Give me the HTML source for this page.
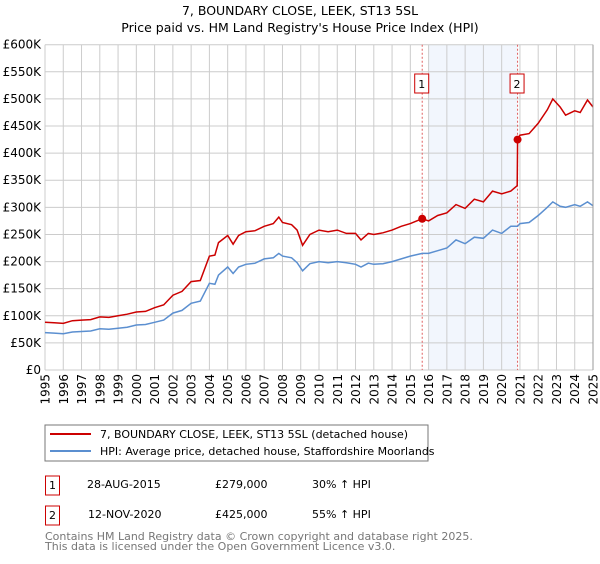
<!DOCTYPE html>
<html><head><meta charset="utf-8"><style>
body{margin:0;background:#fff;font-family:"DejaVu Sans","Liberation Sans",sans-serif;}
svg text{font-family:"DejaVu Sans","Liberation Sans",sans-serif;}
</style></head><body>
<svg id="c" width="600" height="560" xmlns="http://www.w3.org/2000/svg">
<text x="300" y="15" text-anchor="middle" font-size="12.5">7, BOUNDARY CLOSE, LEEK, ST13 5SL</text>
<text x="300" y="32" text-anchor="middle" font-size="12.5">Price paid vs. HM Land Registry's House Price Index (HPI)</text>
<g id="plot"></g>
<rect x="45" y="425" width="383" height="36" fill="#fff" stroke="#777"/>
<line x1="50" y1="434" x2="91" y2="434" stroke="#cc0000" stroke-width="2"/>
<text x="100" y="438" font-size="11">7, BOUNDARY CLOSE, LEEK, ST13 5SL (detached house)</text>
<line x1="50" y1="451" x2="91" y2="451" stroke="#5b8fd0" stroke-width="2"/>
<text x="100" y="455" font-size="11">HPI: Average price, detached house, Staffordshire Moorlands</text>
<g>
<rect x="45.5" y="476" width="14" height="19" fill="#fff" stroke="#cc0000"/>
<text x="52.5" y="489" font-size="11" text-anchor="middle">1</text>
<text x="87" y="488" font-size="11">28-AUG-2015</text>
<text x="215" y="488" font-size="11">£279,000</text>
<text x="312" y="488" font-size="11">30% ↑ HPI</text>
</g>
<g>
<rect x="45.5" y="506" width="14" height="19" fill="#fff" stroke="#cc0000"/>
<text x="52.5" y="519" font-size="11" text-anchor="middle">2</text>
<text x="88" y="518" font-size="11">12-NOV-2020</text>
<text x="215" y="518" font-size="11">£425,000</text>
<text x="312" y="518" font-size="11">55% ↑ HPI</text>
</g>
<text x="45" y="540" font-size="11" fill="#777">Contains HM Land Registry data © Crown copyright and database right 2025.</text>
<text x="45" y="550" font-size="11" fill="#777">This data is licensed under the Open Government Licence v3.0.</text>
</svg>
<script>
const yTicks=[0,50,100,150,200,250,300,350,400,450,500,550,600];
const yTickLabels=["£0","£50K","£100K","£150K","£200K","£250K","£300K","£350K","£400K","£450K","£500K","£550K","£600K"];
const years=[1995,1996,1997,1998,1999,2000,2001,2002,2003,2004,2005,2006,2007,2008,2009,2010,2011,2012,2013,2014,2015,2016,2017,2018,2019,2020,2021,2022,2023,2024,2025];
const dates=[1995,1995.5,1996,1996.5,1997,1997.5,1998,1998.5,1999,1999.5,2000,2000.5,2001,2001.5,2002,2002.5,2003,2003.5,2004,2004.3,2004.5,2005,2005.3,2005.6,2006,2006.5,2007,2007.5,2007.8,2008,2008.5,2008.8,2009.1,2009.5,2010,2010.5,2011,2011.5,2012,2012.3,2012.7,2013,2013.5,2014,2014.5,2015,2015.65,2016,2016.5,2017,2017.5,2018,2018.5,2019,2019.5,2020,2020.5,2020.85,2020.87,2021,2021.5,2022,2022.5,2022.8,2023.2,2023.5,2024,2024.3,2024.7,2025];
const hpi=[69,68,67,70,71,72,76,75,77,79,83,84,88,92,105,110,123,127,160,158,175,190,178,190,195,197,205,207,215,210,207,198,183,196,200,198,200,198,195,190,197,195,196,200,205,210,215,215,220,225,240,233,245,243,258,252,265,265,265,270,272,285,300,310,302,300,305,302,310,303];
const price=[88,87,86,91,92,93,98,97,100,103,107,108,115,120,138,145,163,165,210,212,235,248,232,248,255,257,265,270,282,272,268,258,230,250,258,255,258,252,252,240,252,250,253,258,265,270,279,275,285,290,305,298,315,310,330,325,330,340,425,433,436,455,480,500,485,470,478,475,498,485];
const sales=[{d:2015.65,v:279},{d:2020.87,v:425}];
const X0=45,X1=593,Y0=370,Y1=44.7;
const xs=d=>X0+(d-1995)/30*(X1-X0);
const ys=v=>Y0-v/600*(Y0-Y1);
const NS="http://www.w3.org/2000/svg";
const g=document.getElementById('plot');
function mk(t,a){const e=document.createElementNS(NS,t);for(const k in a)e.setAttribute(k,a[k]);g.appendChild(e);return e;}
let sh=mk('rect',{x:xs(2016),y:Y1,width:xs(sales[1].d)-xs(2016),height:Y0-Y1,fill:'#f2f6fd'});


yTicks.forEach((v,i)=>{
 const l=mk('line',{x1:X0,x2:X1,y1:ys(v),y2:ys(v),stroke:'#ccc'});
 
 
 const t=mk('text',{x:X0-4,y:ys(v)+4,'text-anchor':'end','font-size':12});
 t.textContent=yTickLabels[i];
 
 
});
years.forEach(yr=>{
 const x=xs(yr);
 const l=mk('line',{x1:x,x2:x,y1:Y1,y2:Y0,stroke:'#ccc'});
 
 
 const t=mk('text',{x:0,y:0,'text-anchor':'end','font-size':12,transform:`translate(${x+4.5},374) rotate(-90)`});
 t.textContent=yr;
 
 
});
sales.forEach((s,i)=>{
 const x=xs(s.d);
 const l=mk('line',{x1:x,x2:x,y1:Y1,y2:Y0,stroke:'#e06060','stroke-dasharray':'2,2'});
 
 
 const b=mk('rect',{x:x-7.5,y:74,width:14,height:19,fill:'#fff',stroke:'#cc0000'});
 
 
 const t=mk('text',{x:x-0.5,y:88,'text-anchor':'middle','font-size':11});
 t.textContent=String(i+1);
 
 
});
const pts=a=>dates.map((d,i)=>xs(d).toFixed(1)+','+ys(a[i]).toFixed(1)).join(' ');
const hl=mk('polyline',{points:pts(hpi),fill:'none',stroke:'#5b8fd0','stroke-width':1.5});


const pl=mk('polyline',{points:pts(price),fill:'none',stroke:'#cc0000','stroke-width':1.5});


sales.forEach(s=>{
 const c=mk('circle',{cx:xs(s.d),cy:ys(s.v),r:4,fill:'#cc0000'});
 
 
});
const ax=mk('line',{x1:X1,x2:X1,y1:Y1,y2:Y0,stroke:'#999'});


</script>
</body></html>
